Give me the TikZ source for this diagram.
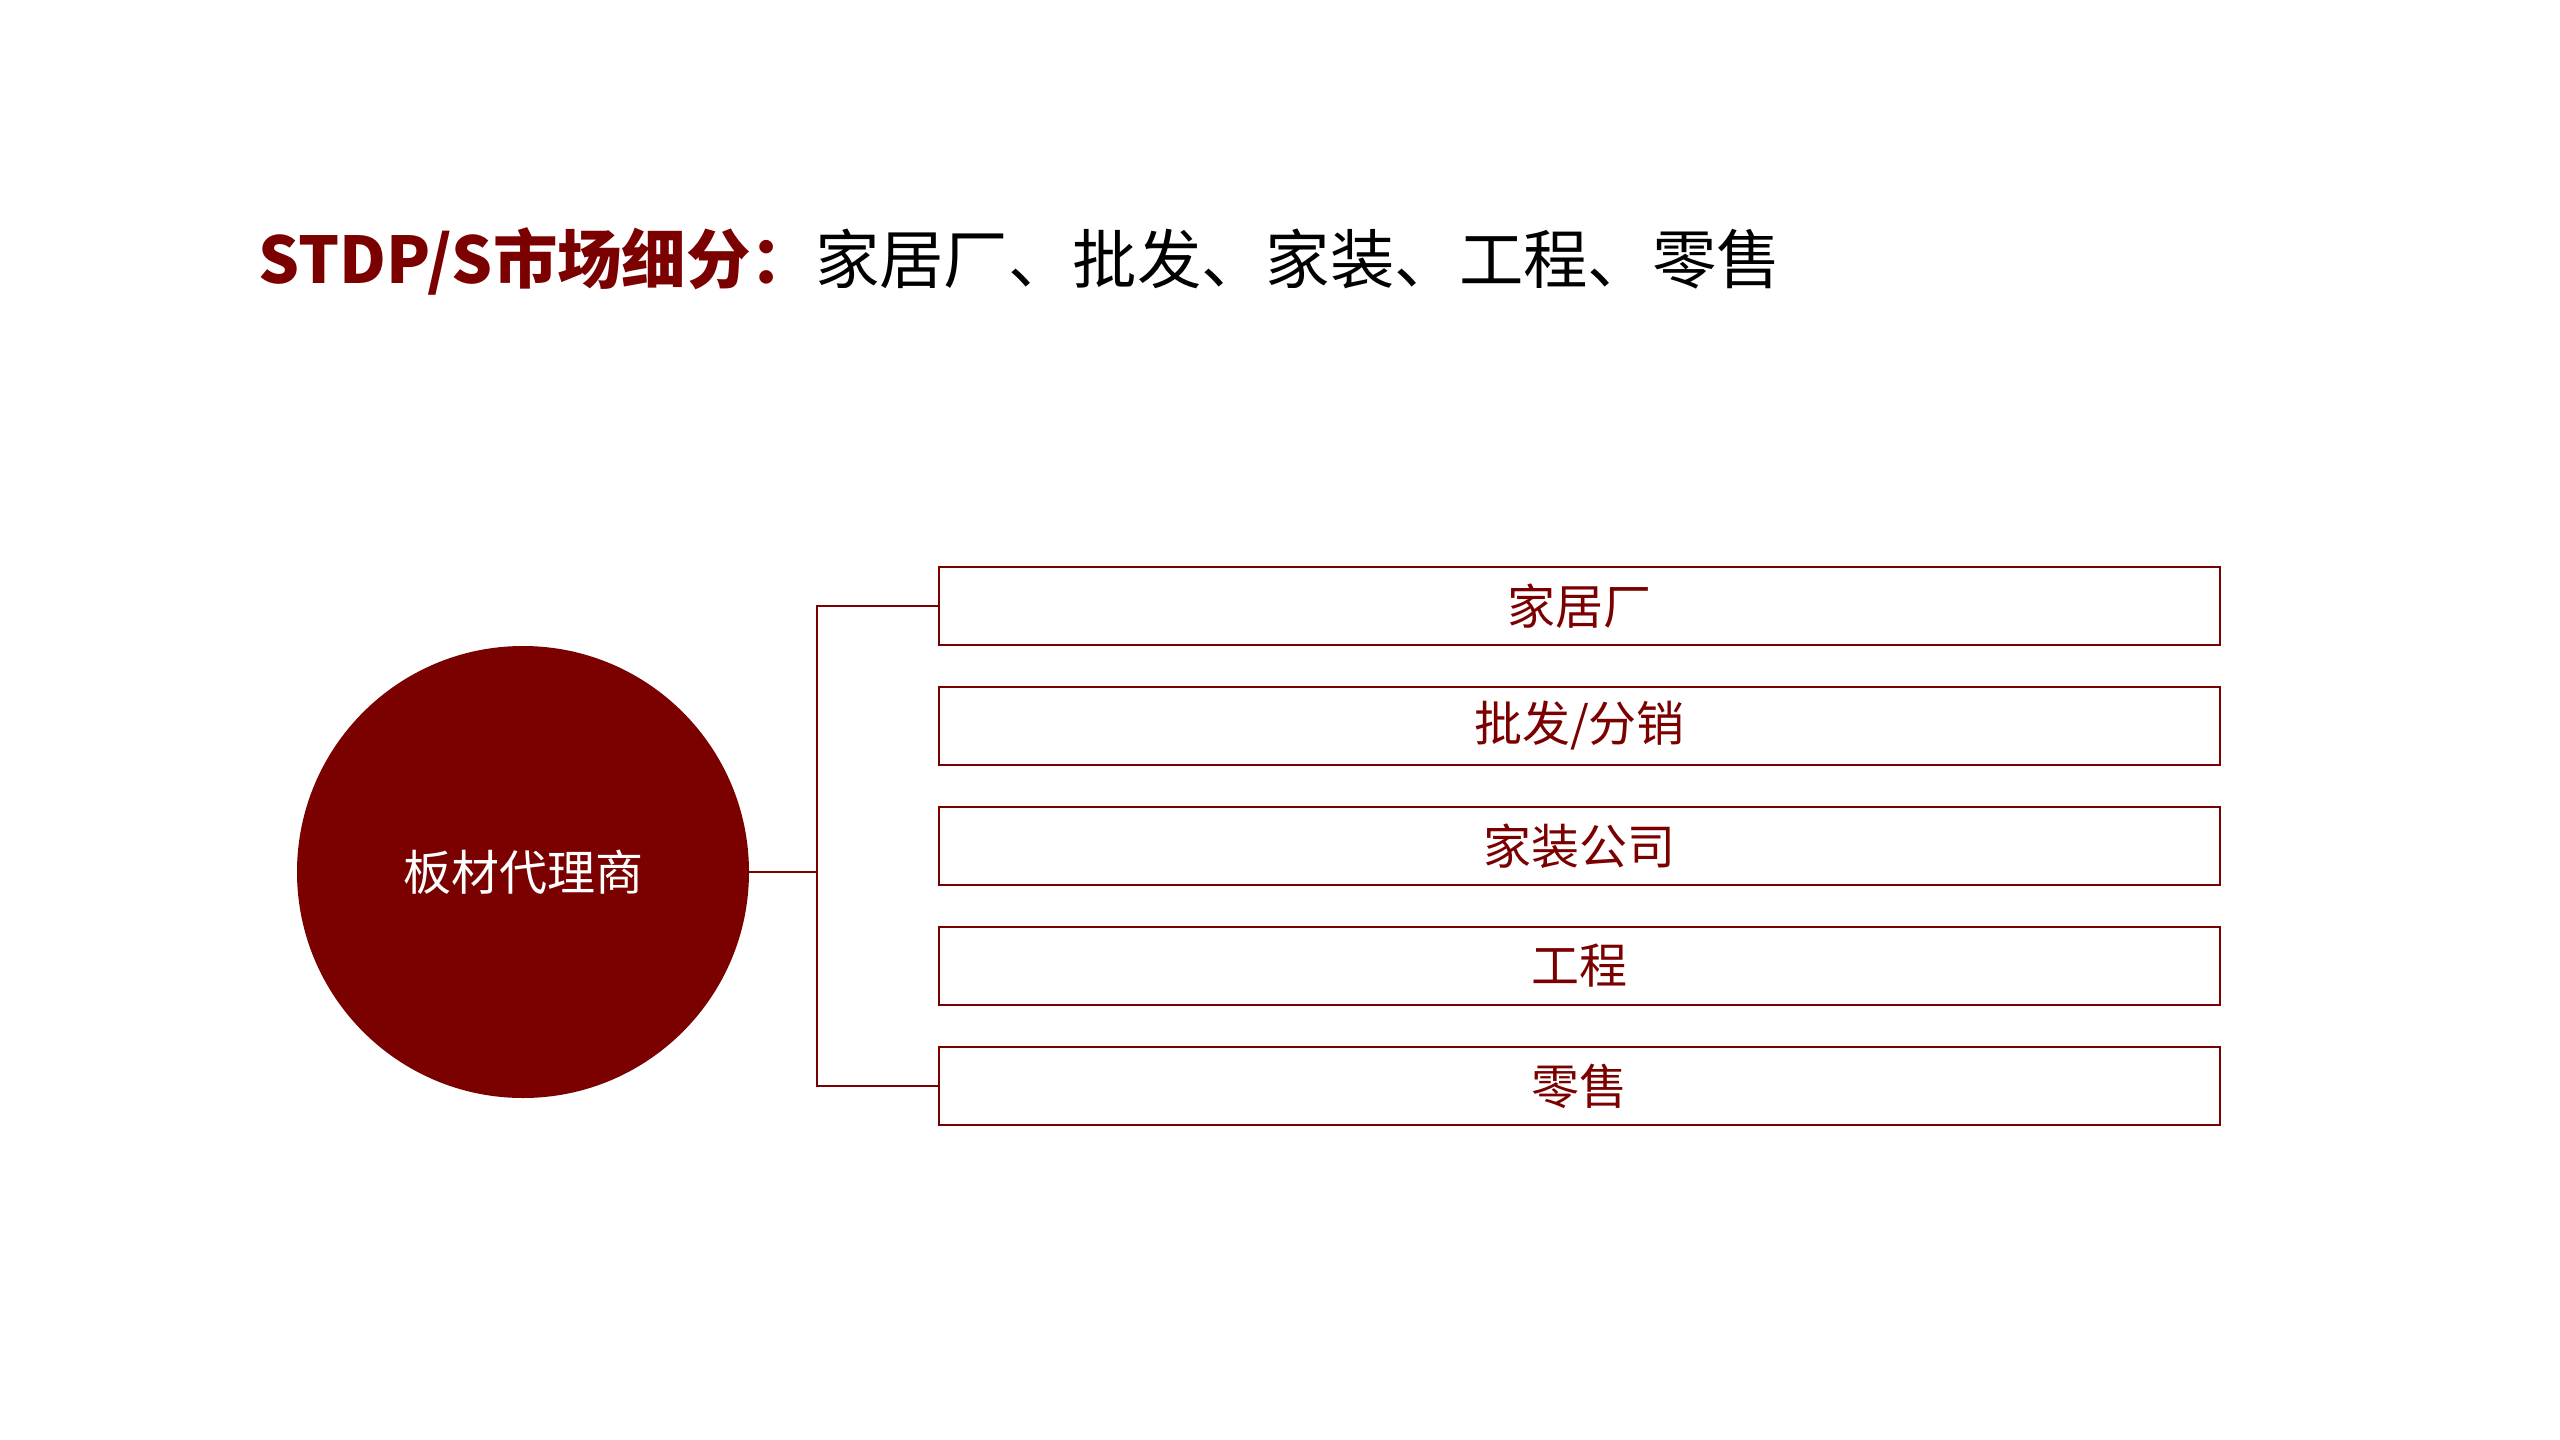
\documentclass[tikz,border=0pt]{standalone}
\usepackage{fontspec}
\setmainfont{Noto Sans CJK SC}
\definecolor{dred}{HTML}{7B0000}
\begin{document}
\begin{tikzpicture}[x=0.5pt,y=-0.5pt,
  hub/.style={circle,fill=dred,minimum size=226pt,inner sep=0pt,text=white,font=\fontsize{24}{28}\selectfont},
  seg/.style={draw=dred,line width=1pt,minimum width=640.5pt,minimum height=39pt,inner sep=0pt,text=dred,font=\fontsize{24}{28}\selectfont},
  conn/.style={draw=dred,line width=0.8pt}]
\useasboundingbox (0,0) rectangle (2560,1440);
\node[anchor=base west,inner sep=0pt,font=\fontsize{32.2}{38}\selectfont] (title) at (258,283)
  {{\bfseries\color{dred}STDP/S市场细分：}家居厂、批发、家装、工程、零售};
\node[hub] (c) at (523,872) {板材代理商};
\node[seg] (b1) at (1579.5,606) {家居厂};
\node[seg] (b2) at (1579.5,726) {批发/分销};
\node[seg] (b3) at (1579.5,846) {家装公司};
\node[seg] (b4) at (1579.5,966) {工程};
\node[seg] (b5) at (1579.5,1086) {零售};
\coordinate (jx) at (817,0);
\draw[conn] (c.east) -- (c.east -| jx);
\draw[conn] (b1.west) -- (b1.west -| jx) -- (b5.west -| jx) -- (b5.west);
\end{tikzpicture}
\end{document}
